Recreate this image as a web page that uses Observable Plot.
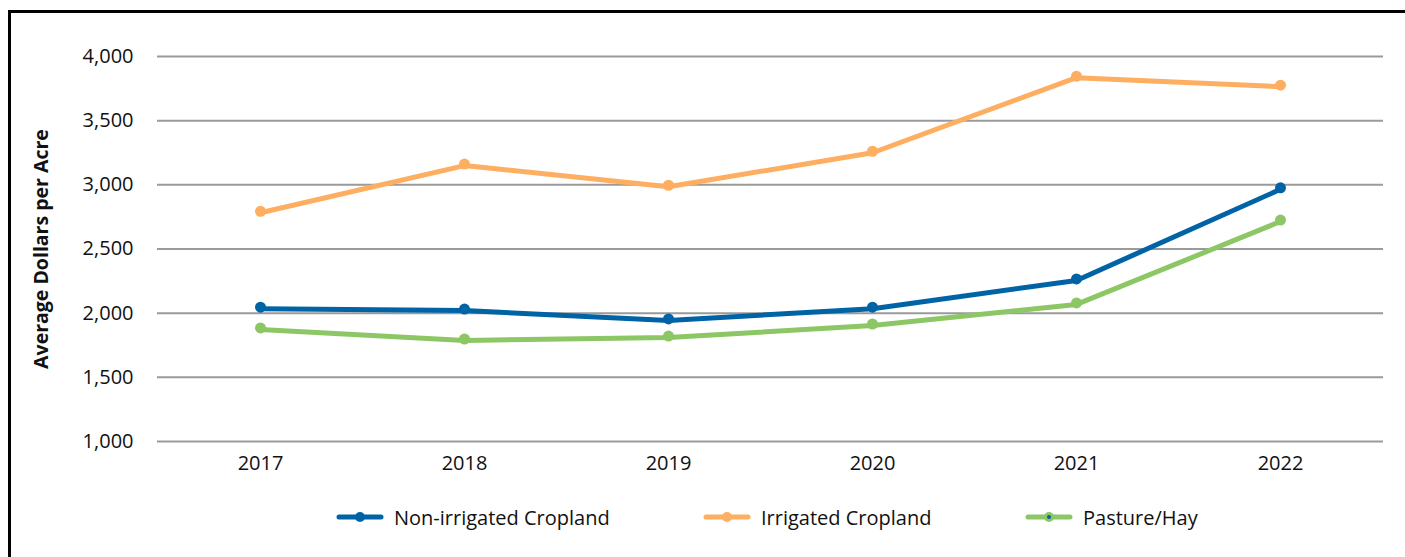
<!DOCTYPE html>
<html>
<head>
<meta charset="utf-8">
<script src="https://cdn.jsdelivr.net/npm/d3@7"></script>
<script src="https://cdn.jsdelivr.net/npm/@observablehq/plot@0.6"></script>
<style>
  html, body { margin: 0; padding: 0; background: #fff; overflow: hidden; }
  #wrap { position: relative; width: 1405px; height: 557px; font-family: "Open Sans", sans-serif; }
  #frame { position: absolute; left: 8px; top: 10px; width: 1500px; height: 700px; border-top: 3px solid #000; border-left: 3px solid #000; }
  #chart { position: absolute; left: 0; top: 0; }
  .leg { position: absolute; top: 505px; height: 24px; display: flex; align-items: center; font-size: 20px; color: #111; }
  .leg svg { margin-right: 10px; }
</style>
</head>
<body>
<div id="wrap">
  <div id="frame"></div>
  <div id="chart"></div>
  <div id="legend"></div>
</div>
<script>
const years = ["2017", "2018", "2019", "2020", "2021", "2022"];
const seriesNames = ["Non-irrigated Cropland", "Irrigated Cropland", "Pasture/Hay"];
const nonIrrigated = [2035, 2020, 1943, 2035, 2255, 2965];
const irrigated = [2782, 3150, 2985, 3250, 3835, 3765];
const pastureHay = [1873, 1787, 1810, 1904, 2068, 2714];
const yTicks = [1000, 1500, 2000, 2500, 3000, 3500, 4000];
const colors = ["#0063a6", "#fdae61", "#8cc665"];
const yLabel = "Average Dollars per Acre";

const seriesValues = [nonIrrigated, irrigated, pastureHay];
const data = [];
seriesNames.forEach((s, i) => years.forEach((y, j) => data.push({series: s, year: y, value: seriesValues[i][j]})));

const chart = Plot.plot({
  width: 1405,
  height: 490,
  marginTop: 56,
  marginBottom: 49,
  marginLeft: 157,
  marginRight: 22,
  style: {fontFamily: "Open Sans, sans-serif", fontSize: "20px", color: "#111", background: "transparent"},
  x: {type: "point", domain: years, padding: 0.5},
  y: {domain: [1000, 4000]},
  color: {domain: seriesNames, range: colors},
  marks: [
    Plot.gridY(yTicks, {stroke: "#9a9a9a", strokeOpacity: 1, strokeWidth: 2}),
    Plot.axisY(yTicks, {tickSize: 0, tickPadding: 24, tickFormat: d3.format(","), label: null, fontSize: 20}),
    Plot.axisX({tickSize: 0, tickPadding: 14, label: null, fontSize: 20}),
    Plot.text([yLabel], {frameAnchor: "left", textAnchor: "middle", rotate: -90, dx: -116, text: d => d, fontWeight: "bold", fontSize: 19.5, fill: "#111"}),
    Plot.line(data, {x: "year", y: "value", z: "series", stroke: "series", strokeWidth: 5, strokeLinejoin: "round", strokeLinecap: "round"}),
    Plot.dot(data, {x: "year", y: "value", fill: "series", r: 5.5, dy: -1.5})
  ]
});
document.getElementById("chart").appendChild(chart);

const legendLefts = [336, 703, 1025];
const swatchWidths = [48, 48, 48];
const legend = document.getElementById("legend");
seriesNames.forEach((name, i) => {
  const item = document.createElement("div");
  item.className = "leg";
  item.style.left = legendLefts[i] + "px";
  const w = swatchWidths[i];
  const inner = i === 2 ? `<circle cx="${w/2}" cy="12" r="2" fill="${colors[0]}"/>` : "";
  item.innerHTML = `<svg width="${w}" height="24"><line x1="3" x2="${w-3}" y1="12" y2="12" stroke="${colors[i]}" stroke-width="5" stroke-linecap="round"/><circle cx="${w/2}" cy="12" r="5" fill="${colors[i]}"/>${inner}</svg><span>${name}</span>`;
  legend.appendChild(item);
});
</script>
</body>
</html>
